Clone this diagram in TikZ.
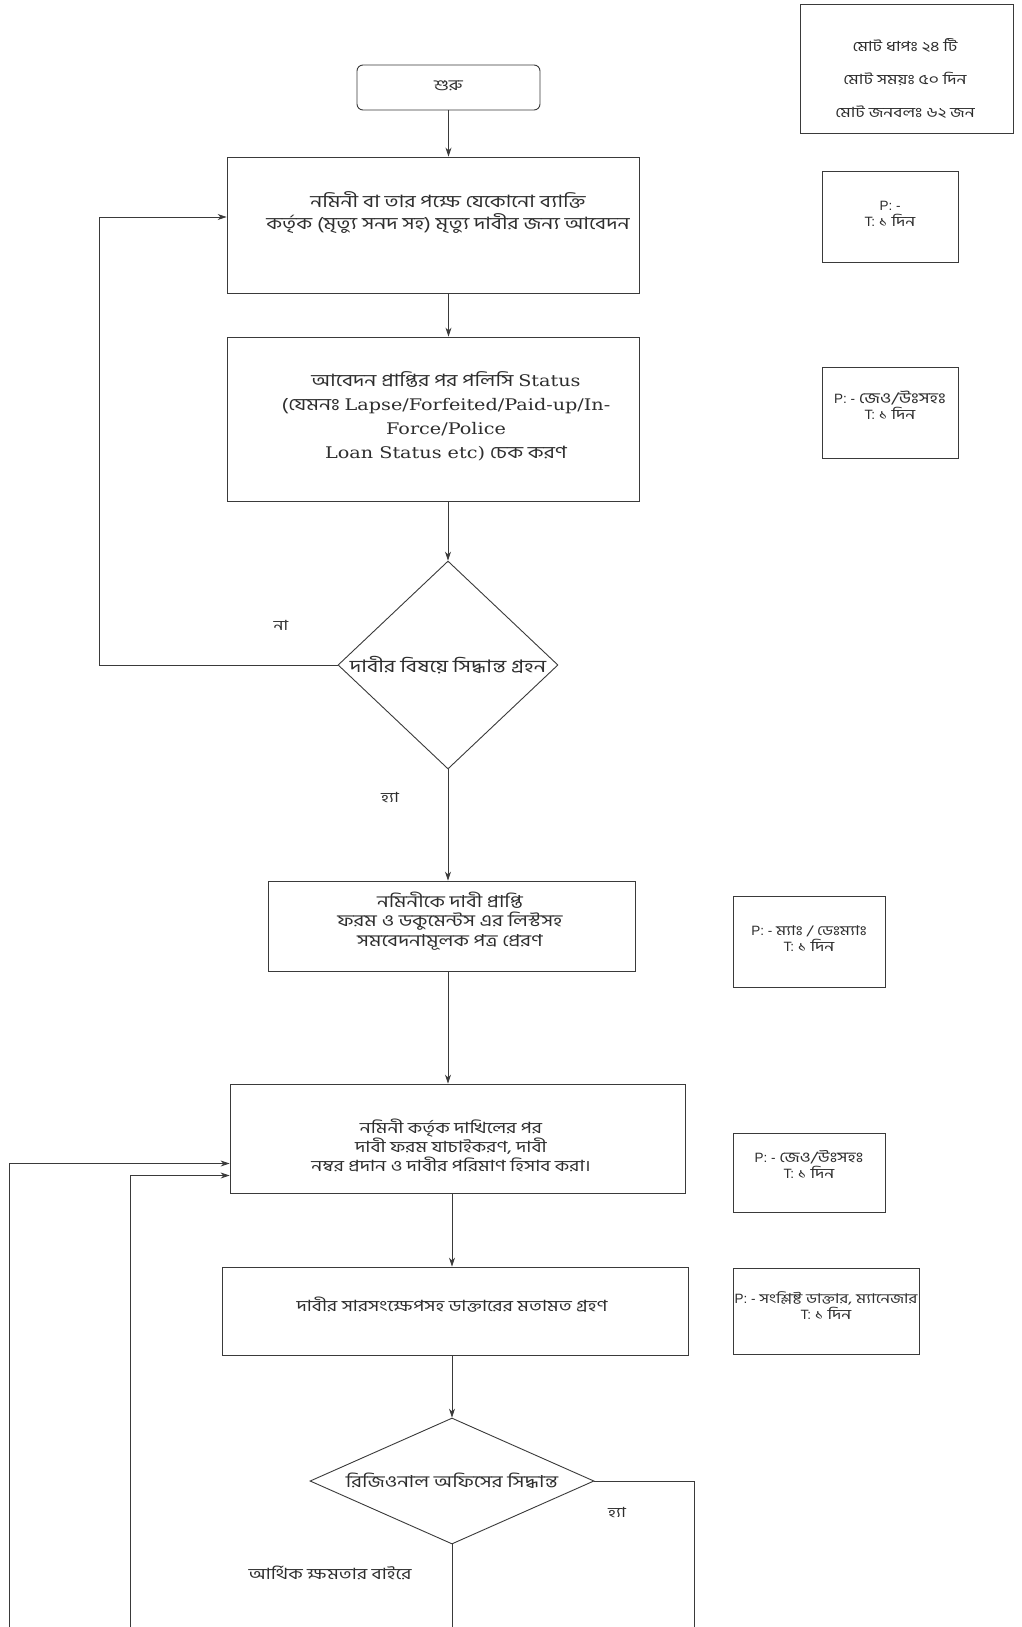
\documentclass[tikz,border=0pt]{standalone}
\usepackage{fontspec}
\setmainfont{Liberation Sans}
\newfontfamily\bn[Script=Bengali,FakeStretch=1.25]{Hind Siliguri}
\newfontfamily\lat[FakeStretch=1.2]{DejaVu Serif}
\usetikzlibrary{arrows.meta,shapes.geometric,calc}
\definecolor{ln}{HTML}{3a3a3a}
\definecolor{tx}{HTML}{2e2e2e}
\newcommand{\bnf}[2]{\bn\fontsize{#1}{#2}\selectfont}
\newcommand{\latf}{\lat\fontsize{16}{24}\selectfont}
\begin{document}
\begin{tikzpicture}[x=1pt,y=-1pt,
  box/.style={draw=ln,line width=0.9pt,rectangle,inner sep=0pt},
  dia/.style={draw=ln,line width=0.9pt,diamond,inner sep=0pt},
  txt/.style={align=center,text=tx,inner sep=0pt,font=\bnf{17}{22}},
  ptxt/.style={align=center,text=tx,inner sep=0pt,font=\fontsize{13.5}{16}\selectfont},
  lbl/.style={text=tx,inner sep=0pt,font=\bnf{14}{16}},
  arr/.style={draw=ln,line width=0.75pt,-{Stealth[length=9pt,width=6pt]}},
  lnk/.style={draw=ln,line width=0.75pt},
]
\useasboundingbox (0,0) rectangle (1021,1627);
\fill[white] (0,0) rectangle (1021,1627);

% summary
\node[box,minimum width=213pt,minimum height=129pt] (sum) at (906.5,68.5) {};
\node[txt,font=\bnf{14}{33}] (sumt) at (905,79) {মোট ধাপঃ ২৪ টি\\মোট সময়ঃ ৫০ দিন\\মোট জনবলঃ ৬২ জন};

% start
\node[box,rounded corners=6pt,minimum width=183pt,minimum height=45pt] (start) at (448.5,87.5) {};
\node[txt,font=\bnf{15}{18}] (startt) at (448.5,86) {শুরু};

% box1
\node[box,minimum width=412pt,minimum height=136pt] (b1) at (433,225) {};
\node[txt] (b1t) at (448,213) {নমিনী বা তার পক্ষে যেকোনো ব্যাক্তি\\কর্তৃক (মৃত্যু সনদ সহ) মৃত্যু দাবীর জন্য আবেদন};
\node[box,minimum width=136pt,minimum height=91pt] (p1) at (890,216.5) {};
\node[ptxt] (p1t) at (890,214) {P: -\\T: {\bnf{14}{16}১ দিন}};

% box2
\node[box,minimum width=412pt,minimum height=164pt] (b2) at (433,419) {};
\node[txt,font=\bnf{17}{24}] (b2t) at (446,416) {আবেদন প্রাপ্তির পর পলিসি {\latf Status}\\({যেমনঃ} {\latf Lapse/Forfeited/Paid-up/In-}\\{\latf Force/Police}\\{\latf Loan Status etc)} চেক করণ};
\node[box,minimum width=136pt,minimum height=91pt] (p2) at (890,412.5) {};
\node[ptxt] (p2t) at (890,405) {P: - {\bnf{15}{16}জেও/উঃসহঃ}\\T: {\bnf{14}{16}১ দিন}};

% decision 1
\node[dia,minimum width=220pt,minimum height=208pt] (d1) at (448,665) {};
\node[txt,font=\bnf{17.3}{20}] (d1t) at (448,665) {দাবীর বিষয়ে সিদ্ধান্ত গ্রহন};
\node[lbl] (no1) at (281,625) {না};
\node[lbl] (yes1) at (390,797) {হ্যা};

% box3
\node[box,minimum width=367pt,minimum height=90pt] (b3) at (451.5,926) {};
\node[txt,font=\bnf{16.5}{19.5}] (b3t) at (450,921) {নমিনীকে দাবী প্রাপ্তি\\ফরম ও ডকুমেন্টস এর লিস্টসহ\\সমবেদনামূলক পত্র প্রেরণ};
\node[box,minimum width=152pt,minimum height=91pt] (p3) at (809,941.5) {};
\node[ptxt] (p3t) at (809,939) {P: - {\bnf{13.5}{16}ম্যাঃ / ডেঃম্যাঃ}\\T: {\bnf{14}{16}১ দিন}};

% box4
\node[box,minimum width=455pt,minimum height=109pt] (b4) at (457.5,1138.5) {};
\node[txt,font=\bnf{15.5}{19}] (b4t) at (451,1145) {নমিনী কর্তৃক  দাখিলের পর\\দাবী ফরম যাচাইকরণ, দাবী\\নম্বর প্রদান ও দাবীর পরিমাণ হিসাব করা।};
\node[box,minimum width=152pt,minimum height=79pt] (p4) at (809,1172.5) {};
\node[ptxt] (p4t) at (809,1164) {P: - {\bnf{14.5}{16}জেও/উঃসহঃ}\\T: {\bnf{14}{16}১ দিন}};

% box5
\node[box,minimum width=466pt,minimum height=88pt] (b5) at (455,1311) {};
\node[txt,font=\bnf{15.5}{19}] (b5t) at (452,1305) {দাবীর সারসংক্ষেপসহ ডাক্তারের মতামত গ্রহণ};
\node[box,minimum width=186pt,minimum height=86pt] (p5) at (826,1311) {};
\node[ptxt] (p5t) at (826,1306) {P: - {\bnf{13.5}{16}সংশ্লিষ্ট ডাক্তার, ম্যানেজার}\\T: {\bnf{14}{16}১ দিন}};

% decision 2
\node[dia,minimum width=284pt,minimum height=126pt] (d2) at (452,1481) {};
\node[txt,font=\bnf{16.5}{19}] (d2t) at (452,1481) {রিজিওনাল অফিসের সিদ্ধান্ত};
\node[lbl] (yes2) at (617,1512) {হ্যা};
\node[lbl,font=\bnf{15.5}{18}] (fin) at (330,1573) {আর্থিক ক্ষমতার বাইরে};

% connectors
\draw[arr] (start.south) -- (start.south |- b1.north);
\draw[arr] (b1.south -| start.south) -- (start.south |- b2.north);
\draw[arr] (b2.south -| d1.north) -- (d1.north);
\coordinate (l1) at (99,217);
\draw[arr] (d1.west) -| (l1) -- (l1 -| b1.west);
\draw[arr] (d1.south) -- (d1.south |- b3.north);
\draw[arr] (b3.south -| d1.south) -- (d1.south |- b4.north);
\draw[arr] (b4.south -| b5t.north) -- (b5t.north |- b5.north);
\draw[arr] (b5.south -| d2.north) -- (d2.north);
\coordinate (o1) at (9,1627);
\coordinate (o2) at (130,1627);
\draw[arr] (o1) |- ($(b4.west)+(0,25)$);
\draw[arr] (o2) |- ($(b4.west)+(0,37)$);
\coordinate (r1) at (694,1627);
\coordinate (r2) at (452,1627);
\draw[lnk] (d2.east) -| (r1);
\draw[lnk] (d2.south) -- (r2);
\end{tikzpicture}
\end{document}
